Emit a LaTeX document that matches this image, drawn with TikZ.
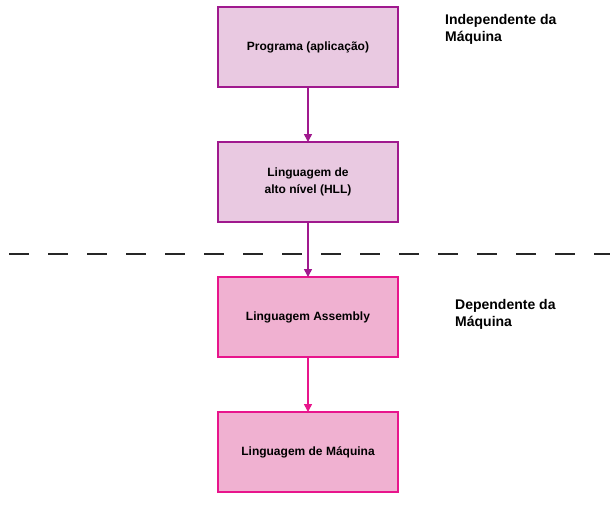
\documentclass[tikz,border=0pt]{standalone}
\usepackage{fontspec}
\setmainfont{Liberation Sans}
\usetikzlibrary{arrows.meta}
\usetikzlibrary{positioning}
\definecolor{hllline}{HTML}{A0198E}
\definecolor{hllfill}{HTML}{E9C9E1}
\definecolor{asmline}{HTML}{E8158C}
\definecolor{asmfill}{HTML}{F0B1D1}

\begin{document}
\begin{tikzpicture}%
	[x=1pt, y=-1pt,
	node distance=55pt,
	level/.style={draw, line width=1.6pt, minimum width=180pt, minimum height=80pt, outer sep=0pt,
		align=center, font=\bfseries\fontsize{12}{17}\selectfont, inner sep=0pt},
	upper/.style={level, draw=hllline, fill=hllfill},
	lower/.style={level, draw=asmline, fill=asmfill},
	link/.style={line width=1.6pt, -{Triangle[width=8pt,length=8pt]}},
	sep/.style={line width=1.6pt, color=black!85, dash pattern=on 20pt off 19pt},
	side/.style={anchor=north west, align=left, font=\bfseries\fontsize{14}{17.5}\selectfont, inner sep=0pt}]
%
\useasboundingbox (0,0) rectangle (616,506);
%
%% boxes
\node[upper] (prog) at (308,47) {Programa (aplicação)};
\node[upper, below=of prog] (hll) {Linguagem de\\alto nível (HLL)};
\node[lower, below=of hll] (asm) {Linguagem Assembly};
\node[lower, below=of asm] (maq) {Linguagem de Máquina};
%
%% side labels
\node[side] (indep) at (445,14) {Independente da\\Máquina};
\node[side] (dep) at (455,299) {Dependente da\\Máquina};
%
%% separator
\coordinate (sepa) at (9,254);
\coordinate (sepb) at (610,254);
\draw[sep] (sepa) -- (sepb);
%
%% arrows
\draw[link, hllline] (prog) -- (hll);
\draw[link, hllline] (hll) -- (asm);
\draw[link, asmline] (asm) -- (maq);
%
\end{tikzpicture}
\end{document}
